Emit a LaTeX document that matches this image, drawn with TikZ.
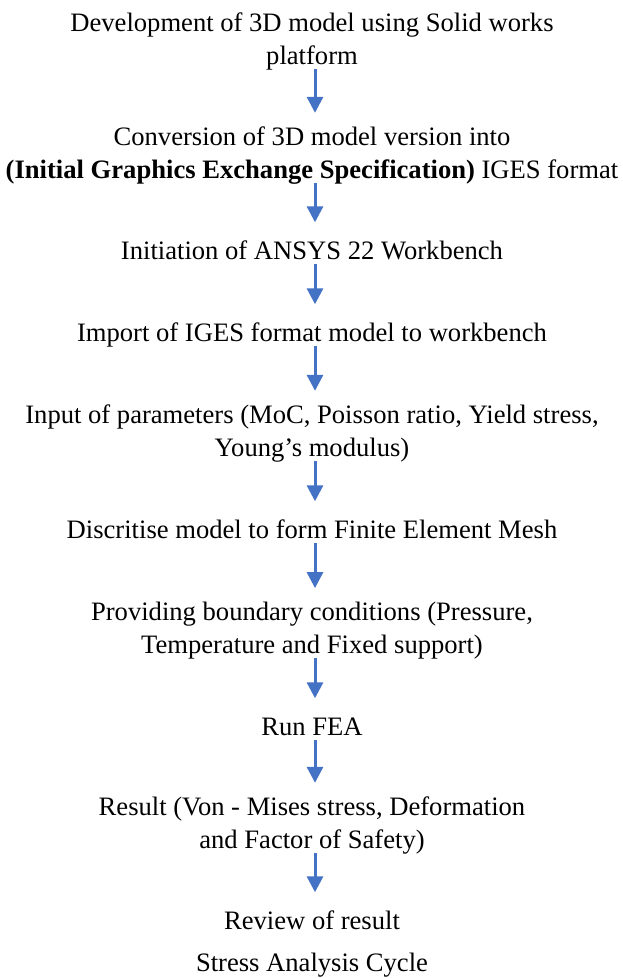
\documentclass[tikz,border=0pt]{standalone}
\usepackage{fontspec}
\setmainfont{Liberation Serif}
\usetikzlibrary{arrows.meta}
\definecolor{arrowblue}{RGB}{68,114,196}
\begin{document}
\begin{tikzpicture}[x=1pt,y=-1pt,
  stepnode/.style={anchor=base, align=center, inner sep=0pt,
    font=\fontsize{26.6}{32.5}\selectfont,
    execute at begin node=\strut, execute at end node=\strut},
  flowarrow/.style={draw=arrowblue, line width=3pt,
    -{Triangle[length=16pt,width=16pt,fill=arrowblue]},
    shorten <=-4.75pt, shorten >=13.75pt}]
\useasboundingbox (0,0) rectangle (622,978);
% anchor=base of a multi-line node is the baseline of its last line
\node[stepnode] (n1) at (312,64) {Development of 3D model using Solid works\\platform};
\node[stepnode] (n2) at (312,178) {Conversion of 3D model version into\\\textbf{(Initial Graphics Exchange Specification)} IGES format};
\node[stepnode] (n3) at (312,259) {Initiation of ANSYS 22 Workbench};
\node[stepnode] (n4) at (312,341) {Import of IGES format model to workbench};
\node[stepnode] (n5) at (312,456) {Input of parameters (MoC, Poisson ratio, Yield stress,\\Young’s modulus)};
\node[stepnode] (n6) at (312,538) {Discritise model to form Finite Element Mesh};
\node[stepnode] (n7) at (312,653) {Providing boundary conditions (Pressure,\\Temperature and Fixed support)};
\node[stepnode] (n8) at (312,735) {Run FEA};
\node[stepnode] (n9) at (312,848) {Result (Von - Mises stress, Deformation\\and Factor of Safety)};
\node[stepnode] (n10) at (312,929) {Review of result};
\node[stepnode] (cap) at (312,971) {Stress Analysis Cycle};
\foreach \a/\b in {n1/n2,n2/n3,n3/n4,n4/n5,n5/n6,n6/n7,n7/n8,n8/n9,n9/n10}
  \draw[flowarrow] ([xshift=3pt]\a.south) -- ([xshift=3pt]\b.north);
\end{tikzpicture}
\end{document}
